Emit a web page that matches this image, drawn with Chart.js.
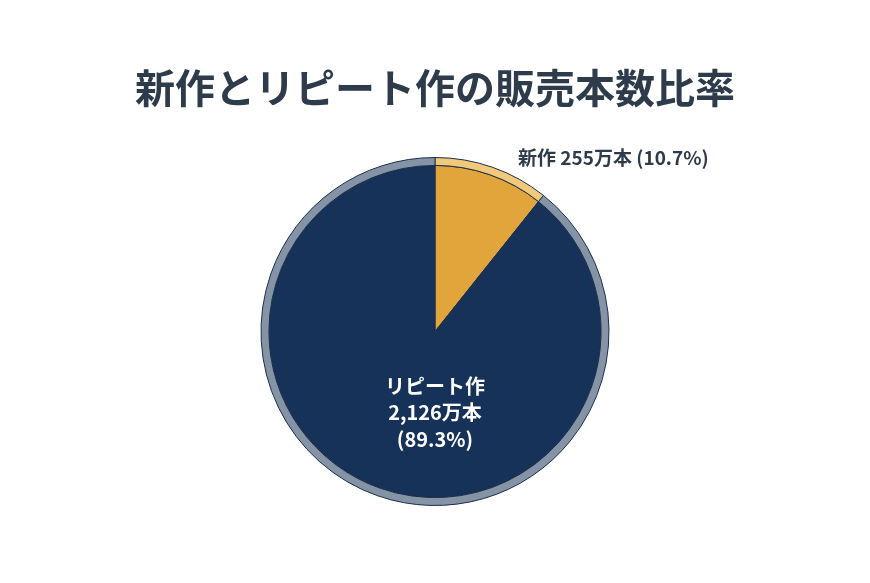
<!DOCTYPE html>
<html><head><meta charset="utf-8">
<script src="https://cdn.jsdelivr.net/npm/chart.js@4"></script>
<style>html,body{margin:0;padding:0;background:#fff}#wrap{width:870px;height:583px}</style>
</head><body><div id="wrap"><canvas id="c"></canvas></div>
<script>
const titleText = "新作とリピート作の販売本数比率";
const categories = ["新作", "リピート作"];
const values = [255, 2126];
const valueLabels = ["255万本", "2,126万本"];
const percents = ["10.7%", "89.3%"];
const colors = ["#e2a53c", "#163259"];
const ringColors = ["#f0c97a", "#8593a6"];
const font = "'Noto Sans CJK JP','Noto Sans',sans-serif";

const labelPlugin = {
  id: 'labels',
  afterDraw(chart) {
    const ctx = chart.ctx;
    ctx.save();
    ctx.fillStyle = '#2e3b4b';
    ctx.font = "bold 40px " + font;
    ctx.textAlign = 'center'; ctx.textBaseline = 'middle';
    ctx.fillText(titleText, 435, 88);
    const meta = chart.getDatasetMeta(1);
    const a0 = meta.data[0];
    ctx.font = "bold 19px " + font;
    ctx.textAlign = 'left';
    ctx.fillText(categories[0] + " " + valueLabels[0] + " (" + percents[0] + ")", 518, 158);
    const a1 = meta.data[1];
    ctx.fillStyle = '#ffffff';
    ctx.font = "bold 20px " + font;
    ctx.textAlign = 'center';
    const cx = a1.x, cy = a1.y;
    ctx.fillText(categories[1], cx, cy + 55);
    ctx.fillText(valueLabels[1], cx, cy + 81);
    ctx.fillText("(" + percents[1] + ")", cx, cy + 108);
    ctx.restore();
  }
};

new Chart(document.getElementById('c'), {
  type: 'pie',
  data: {
    labels: categories,
    datasets: [
      { data: values, backgroundColor: ringColors, borderColor: '#1c2e4a', borderWidth: 1, weight: 1 },
      { data: values, backgroundColor: colors, borderColor: '#1c2e4a', borderWidth: 1, weight: 21 }
    ]
  },
  options: {
    responsive: true, maintainAspectRatio: false, animation: false,
    layout: { padding: { top: 157, bottom: 77, left: 0, right: 0 } },
    plugins: { legend: { display: false }, tooltip: { enabled: false }, title: { display: false } }
  },
  plugins: [labelPlugin]
});
</script></body></html>
